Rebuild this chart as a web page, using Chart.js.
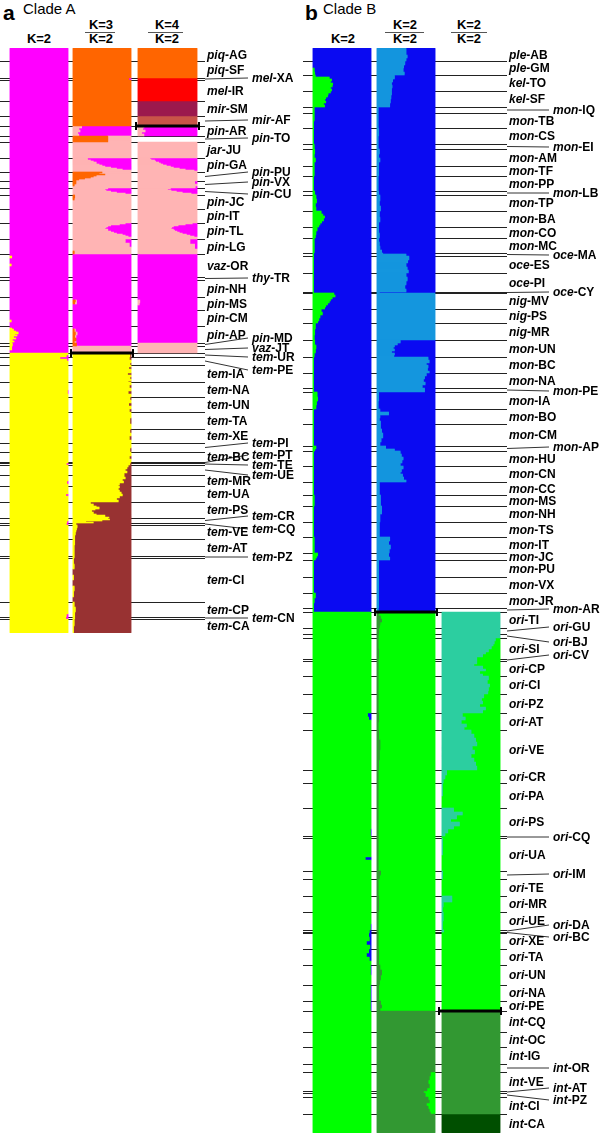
<!DOCTYPE html>
<html><head><meta charset="utf-8"><title>STRUCTURE clades</title>
<script src="https://cdn.jsdelivr.net/npm/chart.js@4.4.1/dist/chart.umd.min.js"></script>
<style>
html,body{margin:0;padding:0;background:#fff;}
body{width:600px;height:1135px;position:relative;overflow:hidden;font-family:"Liberation Sans",Arial,Helvetica,sans-serif;color:#000;}
canvas{position:absolute;display:block;}
.lab{position:absolute;font-weight:bold;font-size:12px;line-height:14px;height:14px;white-space:nowrap;}
.lab i{font-style:italic;}
.k{position:absolute;width:40px;text-align:center;font-weight:bold;font-size:13px;line-height:13px;}
.fr{position:absolute;height:0;border-top:1px solid #555;}
.pl{position:absolute;font-weight:bold;font-size:21px;line-height:21px;}
.cl{position:absolute;font-size:15px;line-height:15px;}
</style></head><body>
<div class="pl" style="left:3px;top:2px">a</div>
<div class="cl" style="left:23px;top:1px">Clade A</div>
<div class="k" style="left:19px;top:32px">K=2</div>
<div class="k" style="left:81px;top:18px">K=3</div>
<div class="fr" style="left:85px;top:32px;width:30px"></div>
<div class="k" style="left:81px;top:32px">K=2</div>
<div class="k" style="left:147px;top:18px">K=4</div>
<div class="fr" style="left:148px;top:32px;width:35px"></div>
<div class="k" style="left:147px;top:32px">K=2</div>

<div class="pl" style="left:305px;top:2px">b</div>
<div class="cl" style="left:323px;top:1px">Clade B</div>
<div class="k" style="left:323px;top:32px">K=2</div>
<div class="k" style="left:385px;top:18px">K=2</div>
<div class="fr" style="left:385px;top:32px;width:39px"></div>
<div class="k" style="left:385px;top:32px">K=2</div>
<div class="k" style="left:449px;top:18px">K=2</div>
<div class="fr" style="left:451px;top:32px;width:36px"></div>
<div class="k" style="left:449px;top:32px">K=2</div>
<script>
// ---------------- DATA: Clade A ----------------
const popsA = ["piq-AG","piq-SF","mel-XA","mel-IR","mir-SM","mir-AF","pin-AR","pin-TO","jar-JU","pin-GA","pin-PU","pin-VX","pin-CU","pin-JC","pin-IT","pin-TL","pin-LG","vaz-OR","thy-TR","pin-NH","pin-MS","pin-CM","pin-AP","pin-MD","vaz-JT",
 "tem-UR","tem-PE","tem-IA","tem-NA","tem-UN","tem-TA","tem-XE","tem-PI","tem-BC","tem-PT","tem-TE","tem-UE","tem-MR","tem-UA","tem-PS","tem-CR","tem-CQ","tem-VE","tem-AT","tem-PZ","tem-CI","tem-CP","tem-CN","tem-CA"];
// individuals per population (rows)
const sizesA = [13,17,2,21,15,10,10,6,16,14,9,7,7,14,14,16,15,23,3,17,13,16,17,3,7,
 4,8,17,15,15,17,14,9,10,1,2,10,11,16,16,5,2,14,17,2,44,15,2,14];
// K=2 (all Clade A): yellow share, magenta remainder
const aK2_yellow = [
 [0],[0],[0],[0],[0],[0],
 [0],[0],[0],[0],[0],[0],[0],[0],[0],[0],[0],
 [0,0.03,0,0,0,0.02,0,0,0,0,0,0],
 [0],[0],[0],
 [0,0,0,0,0,0.02,0,0],
 [0,0.03,0.06,0.1,0.14,0.08,0.12,0.06,0.1,0.04,0.07,0.03],
 [0.04],
 [0.03,0],
 [1,0.97],[0.86,0.98,1,1],
 [1],[1,1,0.99,1],[1],[1],[1],[1],[1],[1],
 [0.97],[1],[1,1,0.98,1],[1,1,1,1,0.96,1,1,1],[1],[1,0.98],[0.97],
 [1],[1],[1],[1],
 [1,1,1,1,0.97],[0.96],[1]
];
// K=3 (non-tem populations): orange share, pink share, magenta remainder
const aK3_orange = [
 [1],[1],[0.96],[1],[1],[1],
 [0],[0.6],[0],[0],
 [0.5,0.45,0.55,0.4,0.35,0.3,0.2,0.1,0.05],
 [0.05,0.02,0],[0],[0.03,0.02,0,0,0,0],[0],[0],[0,0,0,0.02],
 [0],[0],[0],[0,0.04,0.03,0,0,0],[0],[0,0.02,0.04,0.03,0.05,0.02],[0.06],[0]
];
const aK3_pink = [
 [0],[0],[0],[0],[0],[0],
 [0.15,0.1,0.12,0.08,0.1],
 [0.4],
 [1],
 [0.25,0.25,0.3,0.35,0.4,0.4,0.45,0.5,0.55,0.65,0.75,0.85,1,1],
 [0.5,0.55,0.45,0.6,0.65,0.7,0.8,0.9,0.95],
 [0.95,0.98,1],
 [0.6,0.55,0.57,0.65,0.75,0.9,1],
 [0.97,0.98,1,1,1,1],
 [1],
 [0.9,0.8,0.65,0.6,0.57,0.55,0.6,0.6,0.65,0.7,0.75,0.85,0.9,0.95,1,1],
 [0.9,0.97,1,0.98],
 [0],[0],[0],
 [0,0.02,0.03,0,0,0],
 [0],
 [0,0.02,0.03,0.02,0,0.03],
 [0],
 [1]
];
// K=2 (tem populations): yellow share, brown remainder
const aK2tem_yellow = [
 [0.98],[0.97,1,0.98],[1,0.96,1,1,0.94,1,0.98,1,0.95],[1,0.97,1,0.95,1],[0.98,1,0.96,1,0.97],
 [1,0.98,1],[0.98,1,0.97,1],[1,0.98],[1,0.97,1],[0.99],[0.98],
 [0.95,0.93,0.9,0.93,0.88],
 [0.88,0.9,0.85,0.87,0.8,0.78],
 [0.8,0.78,0.8,0.83,0.85,0.8,0.75,0.78],
 [0.3,0.35,0.4,0.45,0.38,0.32,0.35,0.4,0.55,0.62],
 [0.6,0.63,0.5,0.22,0.35],
 [0.05],
 [0.07,0.06,0.05,0.04,0.03,0.03],
 [0.03,0.02,0.02],[0.02],
 [0.01,0.02,0,0.01,0,0.02,0.01,0],
 [0.02,0.04,0.03],[0.03],[0.02,0.01]
];
// K=4 (piq/mel/mir): orange, red, maroon shares, salmon remainder
const aK4_orange = [[1],[1],[0],[0],[0],[0]];
const aK4_red    = [[0],[0],[1],[1],[0],[0]];
const aK4_maroon = [[0],[0],[0],[0],[1],[0]];
// K=2 (pin group): pink share, magenta remainder; null = not analysed
const aK2pin_pink = [
 [0.1,0.08,0.12,0.06,0.1],
 null,
 [1],
 [0.2,0.22,0.28,0.3,0.35,0.38,0.42,0.48,0.55,0.6,0.7,0.8,0.95,1],
 [1],
 [0.96,1,0.97],
 [0.55,0.5,0.56,0.65,0.75,0.9,1],
 [1],[1],
 [0.92,0.8,0.68,0.6,0.57,0.56,0.6,0.62,0.66,0.7,0.75,0.82,0.88,0.95,1,1],
 [0.88,0.96,1],
 [0],[0],[0],
 [0,0.03,0.02,0,0],
 [0],[0],
 [1],[1]
];

// ---------------- DATA: Clade B ----------------
const popsB = ["ple-AB","ple-GM","kel-TO","kel-SF","mon-IQ","mon-TB","mon-CS","mon-EI","mon-AM","mon-TF","mon-PP","mon-LB","mon-TP","mon-BA","mon-CO","mon-MC","oce-MA","oce-ES","oce-PI","oce-CY","nig-MV","nig-PS","nig-MR","mon-UN","mon-BC","mon-NA","mon-PE","mon-IA","mon-BO","mon-CM","mon-AP","mon-HU","mon-CN","mon-CC","mon-MS","mon-NH","mon-TS","mon-IT","mon-JC","mon-PU","mon-VX","mon-JR","mon-AR",
 "ori-TI","ori-GU","ori-BJ","ori-SI","ori-CV","ori-CP","ori-CI","ori-PZ","ori-AT","ori-VE","ori-CR","ori-PA","ori-PS","ori-CQ","ori-UA","ori-IM","ori-TE","ori-MR","ori-UE","ori-DA","ori-BC","ori-XE","ori-TA","ori-UN","ori-NA","ori-PE",
 "int-CQ","int-OC","int-IG","int-OR","int-VE","int-AT","int-PZ","int-CI","int-CA"];
const sizesB = [13,14,16,16,6,15,16,5,17,10,15,4,16,16,11,15,3,17,19,1,16,14,17,17,16,15,4,17,15,22,5,15,16,13,11,16,15,16,7,17,16,15,4,
 16,6,4,21,2,15,18,19,17,40,13,25,28,2,33,8,17,16,18,2,1,16,16,20,16,10,
 21,15,17,8,19,2,4,17,19];
// K=2 (all Clade B): green share, blue remainder
const bK2_green = [
 [0],[0,0,0.02,0.03],
 [0.04,0.28,0.32,0.3,0.34,0.33,0.3,0.32],
 [0.3,0.26,0.25,0.22,0.2,0.22,0.18,0.2],
 [0.02],[0.02,0.01],[0.01],[0.02],[0.03,0.02,0.04,0.02],[0.02],[0.01],[0.03],
 [0.05,0.06,0.04,0.05],
 [0.14,0.17,0.2,0.18,0.15,0.12,0.1],
 [0.07,0.05,0.04],[0.02],
 [0.01],[0.01],[0.01],[0.01],
 [0.36,0.38,0.33,0.3,0.28,0.25,0.22,0.2],
 [0.14,0.16,0.12,0.1,0.08],
 [0.04,0.03,0.02],
 [0.03,0.05,0.04,0.02],
 [0.01],[0.01],[0.01],
 [0.07,0.08,0.06,0.05],
 [0.01],[0.01],[0.05,0.03],
 [0.01],[0.01],[0.01],[0.02],[0.01],[0.01],[0.02],
 [0.08,0.06,0.04],
 [0.01],[0.01],[0.04,0.02,0.01],[0.01],
 [1],[1],[1],[1],[1],[1],[1],[1],
 [0.94,0.96,1,1,1],
 [1],[1],[1],
 [1,1,1,0.99],[1],
 [1,1,1,1,1,0.9,1,1,1],
 [1],[1],[1],
 [1,1,0.99],[0.97],[0.97],
 [0.96,0.97,0.92,0.98],[0.96,0.92,0.97,1],
 [0.99,1],[0.99],[0.99],
 [1],[1],[1],[1],[1],[1],[1],[1],[1]
];
// K=2 (non-ori/int): light-blue share, blue remainder
const bK2top_lightblue = [
 [0.5,0.5,0.52,0.5],[0.48,0.46,0.45,0.47],[0.3,0.27,0.25,0.26,0.25],[0.25,0.24,0.23,0.22],
 [0.02],[0.02],[0.03,0.02],[0.02],[0.04,0.03,0.05,0.03],[0.03],[0.02],[0.03],
 [0.05,0.04,0.06],[0.04,0.05,0.03],[0.03,0.04],[0.03,0.04,0.05,0.08],
 [0.1,0.5,0.5],[0.55,0.53,0.5,0.52,0.54],[0.5,0.52,0.5,0.48,0.5],[0.04],
 [1],[1],[1],
 [0.4,0.35,0.3,0.28,0.3,0.25,0.3,0.29],
 [0.88,0.9,0.85,0.88,0.87,0.9],
 [0.85,0.82,0.8,0.83,0.78],
 [0.82],
 [0.03,0.02],
 [0.05,0.2,0.05,0.04,0.06],
 [0.06,0.08,0.1,0.07,0.05],
 [0.15,0.3],
 [0.4,0.42,0.45,0.43,0.4],
 [0.45,0.42,0.4,0.44,0.46,0.5],
 [0.04],[0.06],[0.08,0.05],[0.04],
 [0.22,0.2,0.23,0.21],[0.2,0.22],
 [0.03],[0.03],[0.03],[0.02]
];
// K=2 (ori + int): dark-green share, green remainder
const bK2bot_darkgreen = [
 [0.03,0.06,0.08,0.05,0.04],[0.03],[0.02],[0.02,0.03],
 [0.02],[0.02],[0.02],[0.02],[0.03,0.02],[0.03,0.05,0.04,0.03],
 [0.02],[0.02],[0.02],[0.02],[0.02],[0.06,0.04],
 [0.02],[0.03],[0.02],[0.02],[0.02],[0.02],[0.03],
 [0.05,0.08,0.06,0.04],[0.03],[0.06,0.08,0.05],
 [1],[1],[1],[1],
 [0.92,0.9,0.88,0.9,0.86],[0.8],[0.83],
 [0.88,0.9,0.85,0.88,0.9,0.92],[1]
];
// K=2 (ori): teal share, green remainder
const bK2ori_teal = [
 [1],[1],[1],
 [0.92,0.9,0.88,0.85,0.8,0.75,0.7,0.6],
 [0.6],
 [0.6,0.55,0.7,0.75,0.65,0.7],
 [0.8,0.78,0.82,0.8,0.79],
 [0.72,0.68,0.7,0.65,0.75,0.7],
 [0.35,0.4,0.33,0.42,0.38],
 [0.5,0.55,0.58,0.6,0.52,0.56,0.5,0.55,0.58,0.6],
 [0.08,0.05,0.02],
 [0.01,0],
 [0.2,0.35,0.25,0.15,0.3,0.2,0.1,0.05],
 [0],[0.01,0],[0.01],[0],
 [0.17,0.02,0.01],
 [0.02,0.01],[0.03],[0],
 [0],[0],[0],[0],[0]
];
// K=2 (int): mid-green share, dark-green remainder
const bK2int_mid = [[1],[1],[1],[1],[1],[1],[1],[1],[0]];

// ---------------- styles ----------------
const C = {magenta:'#FF00FF', orange:'#FF6600', pink:'#FFB4B4', red:'#FF0000', maroon:'#9C1A4E', salmon:'#C95548',
  yellow:'#FFFF00', brown:'#993333', blue:'#0B0BF2', lightblue:'#1496DE', green:'#00FF00', dkgreen:'#339933',
  teal:'#2DCEA0', intgreen:'#339933', intdark:'#004F00'};

function layoutRows(sizes){const starts=[];let s=0;for(const n of sizes){starts.push(s);s+=n;}return {starts,total:s};}
function pick(prof,i,n){return prof[Math.min(prof.length-1,Math.floor(i*prof.length/n))];}

function colDatasets(sizes,starts,total,c){
  const nc=c.colors.length;
  const data=c.colors.map(()=>new Array(total).fill(null));
  const nP=c.comps[0].length;
  for(let q=0;q<nP;q++){
    const gp=c.from+q,n=sizes[gp],s0=starts[gp];
    if(c.comps[0][q]==null) continue;
    for(let i=0;i<n;i++){
      let cum=0;
      for(let k=0;k<nc;k++){
        let v=k<nc-1?pick(c.comps[k][q],i,n):1-cum;
        v=Math.max(0,Math.min(v,1-cum));
        if(v>0.001) data[k][s0+i]=[c.left+cum*c.width,c.left+(cum+v)*c.width];
        cum+=v;
      }
    }
  }
  return c.colors.map((col,k)=>({data:data[k],backgroundColor:col,borderWidth:0,grouped:false,barPercentage:1,categoryPercentage:1}));
}

function makePanel(p){
  const cv=document.createElement('canvas');
  cv.width=p.w;cv.height=p.h;
  cv.style.left=p.x+'px';cv.style.top=p.y+'px';cv.style.width=p.w+'px';cv.style.height=p.h+'px';
  document.body.appendChild(cv);
  const {starts,total}=layoutRows(p.sizes);
  const datasets=[];
  p.columns.forEach(c=>datasets.push(...colDatasets(p.sizes,starts,total,c)));
  const rows=Array.from({length:total},(_,i)=>String(i));
  const deco={id:'deco',
    beforeDatasetsDraw(ch){
      const ctx=ch.ctx,ys=ch.scales.y,xs=ch.scales.x;
      const rh=ys.getPixelForValue(1)-ys.getPixelForValue(0);
      const top=k=>ys.getPixelForValue(k)-rh/2;
      ctx.save();ctx.strokeStyle='#222';ctx.lineWidth=1;
      for(let i=1;i<p.sizes.length;i++){
        const y=Math.round(top(starts[i]))+0.5;
        ctx.beginPath();ctx.moveTo(xs.getPixelForValue(p.lineX0),y);ctx.lineTo(xs.getPixelForValue(p.lineX1),y);ctx.stroke();
      }
      ctx.strokeStyle='#333';
      p.pops.forEach((name,i)=>{
        if(p.leaders[name]==null) return;
        const cy=top(starts[i])+p.sizes[i]*rh/2;
        ctx.beginPath();ctx.moveTo(xs.getPixelForValue(p.lineX1),cy);ctx.lineTo(xs.getPixelForValue(p.leadX1),p.leaders[name]-p.y);ctx.stroke();
      });
      ctx.restore();
    },
    afterDatasetsDraw(ch){
      const ctx=ch.ctx,ys=ch.scales.y,xs=ch.scales.x;
      const rh=ys.getPixelForValue(1)-ys.getPixelForValue(0);
      ctx.save();ctx.fillStyle='#000';
      p.bars.forEach(b=>{
        const y=Math.round(ys.getPixelForValue(starts[b.pop])-rh/2);
        const x0=xs.getPixelForValue(b.x0),x1=xs.getPixelForValue(b.x1);
        ctx.fillRect(x0,y-1.5,x1-x0,3);
        ctx.fillRect(x0,y-4,2,8);ctx.fillRect(x1-2,y-4,2,8);
      });
      ctx.restore();
    }
  };
  const chart=new Chart(cv,{type:'bar',data:{labels:rows,datasets},
    options:{indexAxis:'y',responsive:false,maintainAspectRatio:false,animation:false,devicePixelRatio:1,events:[],
      layout:{padding:0},
      plugins:{legend:{display:false},tooltip:{enabled:false},title:{display:false}},
      scales:{x:{type:'linear',min:0,max:p.w,display:false},y:{type:'category',display:false}}},
    plugins:[deco]});
  // population labels (real text)
  const ys=chart.scales.y;
  const rh=ys.getPixelForValue(1)-ys.getPixelForValue(0);
  p.pops.forEach((name,i)=>{
    const d=document.createElement('div');d.className='lab';
    const k=name.indexOf('-');
    d.innerHTML='<i>'+name.slice(0,k)+'</i>'+name.slice(k);
    let y,x;
    if(p.leaders[name]!=null){y=p.leaders[name];x=p.leadLabelX;}
    else{y=p.y+ys.getPixelForValue(starts[i])-rh/2+p.sizes[i]*rh/2;x=p.labelX;}
    d.style.left=x+'px';d.style.top=(y-7)+'px';
    document.body.appendChild(d);
  });
  return chart;
}

// label positions for leader-line labels (page y)
const leadA={"mel-XA":78,"mir-AF":120,"pin-TO":138,"pin-PU":172,"pin-VX":182,"pin-CU":194,"thy-TR":278,"pin-MD":338,"vaz-JT":348,
 "tem-UR":357,"tem-PE":370,"tem-PI":443,"tem-PT":455,"tem-TE":465,"tem-UE":475,"tem-CR":516,"tem-CQ":529,"tem-PZ":557,"tem-CN":618};
const leadB={"mon-IQ":110,"mon-EI":147,"mon-LB":193,"oce-MA":255,"oce-CY":292,"mon-PE":391,"mon-AP":447,"mon-AR":609,
 "ori-GU":627,"ori-BJ":642,"ori-CV":655,"ori-CQ":837,"ori-IM":874,"ori-DA":925,"ori-BC":937,"int-OR":1068,"int-AT":1088,"int-PZ":1100};

makePanel({x:0,y:48,w:250,h:585,pops:popsA,sizes:sizesA,lineX0:0,lineX1:205,leadX1:248,labelX:207,leadLabelX:252,leaders:leadA,
  columns:[
    {left:10,width:58,from:0,comps:[aK2_yellow],colors:[C.yellow,C.magenta]},
    {left:73,width:58,from:0,comps:[aK3_orange,aK3_pink],colors:[C.orange,C.pink,C.magenta]},
    {left:73,width:58,from:25,comps:[aK2tem_yellow],colors:[C.yellow,C.brown]},
    {left:138,width:59,from:0,comps:[aK4_orange,aK4_red,aK4_maroon],colors:[C.orange,C.red,C.maroon,C.salmon]},
    {left:138,width:59,from:6,comps:[aK2pin_pink],colors:[C.pink,C.magenta]}
  ],
  bars:[{pop:6,x0:135,x1:200},{pop:25,x0:70,x1:134}]});

makePanel({x:300,y:48,w:252,h:1085,pops:popsB,sizes:sizesB,lineX0:3,lineX1:207,leadX1:249,labelX:509,leadLabelX:553,leaders:leadB,
  columns:[
    {left:13,width:58,from:0,comps:[bK2_green],colors:[C.green,C.blue]},
    {left:77,width:58,from:0,comps:[bK2top_lightblue],colors:[C.lightblue,C.blue]},
    {left:77,width:58,from:43,comps:[bK2bot_darkgreen],colors:[C.dkgreen,C.green]},
    {left:142,width:58,from:43,comps:[bK2ori_teal],colors:[C.teal,C.green]},
    {left:142,width:58,from:69,comps:[bK2int_mid],colors:[C.intgreen,C.intdark]}
  ],
  bars:[{pop:43,x0:74,x1:138},{pop:69,x0:138,x1:202}]});
</script>
</body></html>
